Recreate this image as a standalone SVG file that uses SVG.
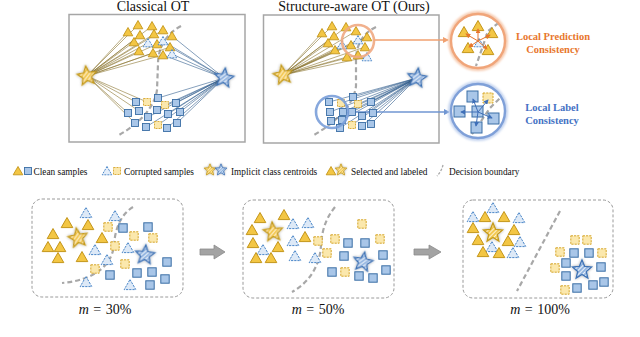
<svg xmlns="http://www.w3.org/2000/svg" xmlns:xlink="http://www.w3.org/1999/xlink" width="640" height="337" viewBox="0 0 640 337">
<style>
.title{font-family:"Liberation Serif","Times New Roman",serif;font-size:14px;fill:#111;text-anchor:middle}
.leg{font-family:"Liberation Serif","Times New Roman",serif;font-size:9.3px;fill:#111}
.cons{font-family:"Liberation Serif","Times New Roman",serif;font-size:10.5px;font-weight:bold;text-anchor:middle}
.mlab{font-family:"Liberation Serif","DejaVu Serif",serif;font-size:14px;fill:#111;text-anchor:middle;word-spacing:1px}
.box{fill:#fff;stroke:#a6a6a6;stroke-width:1.5}
.panel{fill:#fff;stroke:#9a9a9a;stroke-width:1;stroke-dasharray:3 2}
.db{fill:none;stroke:#a8a8a8;stroke-width:2.2;stroke-dasharray:5 3}
.lg{stroke:#8c7530;stroke-width:0.6;fill:none}
.lb{stroke:#34608f;stroke-width:0.6;fill:none}
.lg2{stroke:#a88a3a;stroke-width:0.7;fill:none}
.lb2{stroke:#4b709c;stroke-width:0.7;fill:none}
.garrow{fill:#a3a3a3;stroke:#8a8a8a;stroke-width:0.8}
</style>
<defs>
<pattern id="hg" patternUnits="userSpaceOnUse" width="3" height="3" patternTransform="rotate(45)">
<rect width="3" height="3" fill="#f3c64a"/><rect width="1.1" height="3" fill="#fdf3d2"/>
</pattern>
<pattern id="hb" patternUnits="userSpaceOnUse" width="3" height="3" patternTransform="rotate(45)">
<rect width="3" height="3" fill="#8fb3e0"/><rect width="1.1" height="3" fill="#eef4fb"/>
</pattern>
<filter id="glow" x="-50%" y="-50%" width="200%" height="200%">
<feGaussianBlur in="SourceAlpha" stdDeviation="1.6"/>
<feComponentTransfer><feFuncA type="linear" slope="0.35"/></feComponentTransfer>
<feMerge><feMergeNode/><feMergeNode in="SourceGraphic"/></feMerge>
</filter>
<filter id="cglow" x="-30%" y="-30%" width="160%" height="160%">
<feGaussianBlur stdDeviation="1.2"/>
</filter>
<path id="tg" d="M0,-4.5 L4.8,3.8 L-4.8,3.8 Z" fill="#f3c644" stroke="#c3951a" stroke-width="0.9"/>
<path id="tb" d="M0,-4.5 L4.8,3.8 L-4.8,3.8 Z" fill="#e4eefa" stroke="#3f7fc4" stroke-width="0.9" stroke-dasharray="2 1"/>
<rect id="sb" x="-3.5" y="-3.5" width="7" height="7" fill="#a9c6e8" stroke="#3b6ea5" stroke-width="0.9"/>
<rect id="sy" x="-3.5" y="-3.5" width="7" height="7" fill="#fbe8ad" stroke="#d6a62a" stroke-width="0.9" stroke-dasharray="2 1"/>
<path id="TG" d="M0,-5.5 L5.8,4.6 L-5.8,4.6 Z" fill="#f3c644" stroke="#c3951a" stroke-width="1"/>
<path id="TB" d="M0,-5.5 L5.8,4.6 L-5.8,4.6 Z" fill="#dde9f7" stroke="#4a86c8" stroke-width="1" stroke-dasharray="2.2 1"/>
<rect id="SB" x="-4.2" y="-4.2" width="8.4" height="8.4" fill="#a9c6e8" stroke="#3b6ea5" stroke-width="1"/>
<rect id="SY" x="-4.2" y="-4.2" width="8.4" height="8.4" fill="#fbe8ad" stroke="#d6a62a" stroke-width="1" stroke-dasharray="2.2 1"/>
<path id="star" d="M0,-10 L2.65,-3.64 L9.51,-3.09 L4.28,1.39 L5.88,8.09 L0,4.5 L-5.88,8.09 L-4.28,1.39 L-9.51,-3.09 L-2.65,-3.64 Z"/>
<g id="stg" filter="url(#glow)"><use href="#star" fill="url(#hg)" stroke="#c49a1c" stroke-width="1.3"/></g>
<g id="stb" filter="url(#glow)"><use href="#star" fill="url(#hb)" stroke="#3f73b5" stroke-width="1.3"/></g>
<marker id="ao" viewBox="0 0 6 6" refX="5" refY="3" markerWidth="5" markerHeight="5" orient="auto"><path d="M0,0 L6,3 L0,6 Z" fill="#e8762c"/></marker>
<marker id="ab" viewBox="0 0 6 6" refX="5" refY="3" markerWidth="5" markerHeight="5" orient="auto"><path d="M0,0 L6,3 L0,6 Z" fill="#3f6fb8"/></marker>
<marker id="aO" viewBox="0 0 6 6" refX="5" refY="3" markerWidth="4" markerHeight="4" orient="auto"><path d="M0,0 L6,3 L0,6 Z" fill="#f0a070"/></marker>
<marker id="aB" viewBox="0 0 6 6" refX="5" refY="3" markerWidth="4" markerHeight="4" orient="auto"><path d="M0,0 L6,3 L0,6 Z" fill="#7096d2"/></marker>
<clipPath id="cpo"><circle cx="478" cy="41" r="26"/></clipPath>
<clipPath id="cpb"><circle cx="478" cy="111" r="26"/></clipPath>
</defs>

<rect width="640" height="337" fill="#fff"/>

<!-- Titles -->
<text class="title" x="153" y="11">Classical OT</text>
<text class="title" x="354" y="11">Structure-aware OT (Ours)</text>

<!-- Box frames -->
<g id="box-classical"><rect class="box" x="69" y="14.5" width="176" height="127.5"/></g>
<g id="box-structure"><rect class="box" x="263.5" y="15" width="175.5" height="128"/></g>

<!-- decision boundaries top -->
<path class="db" d="M181,26 C166,34 158,48 158,64 L157,90 C155,106 140,124 117,136"/>
<path class="db" d="M376,27 C363,33 356,45 356,60 L356,86 C354,105 336,122 314,135"/>

<g id="connectors">
<g class="lg">
<path d="M87,76L128,32M87,76L138,25M87,76L152,26M87,76L163,30M87,76L140,35M87,76L154,34M87,76L134,42M87,76L157,44M87,76L148,43M87,76L139,51M87,76L153,53M87,76L163,55M87,76L170,47M87,76L136,102M87,76L147,102M87,76L128,113M87,76L139,111M87,76L135,123"/>
</g>
<g class="lb">
<path d="M224,78L172,36M224,78L163,41M224,78L170,47M224,78L172,54M224,78L163,55M224,78L158,98M224,78L176,103M224,78L165,105M224,78L157,110M224,78L168,114M224,78L180,112M224,78L148,117M224,78L146,127M224,78L167,128M224,78L177,123M224,78L158,125"/>
</g>
<g class="lg">
<path d="M283,75L322,33M283,75L332,26M283,75L334,36M283,75L346,27M283,75L356,31M283,75L367,37M283,75L328,43M283,75L351,45M283,75L365,47M283,75L335,50M283,75L358,55M283,75L347,57M283,75L358,40M283,75L342,45M283,75L367,57"/>
</g>
<g class="lb">
<path d="M417,78L329,102M417,78L341,103M417,78L353,97M417,78L358,104M417,78L371,102M417,78L330,112M417,78L343,112M417,78L352,112M417,78L362,116M417,78L373,113M417,78L331,121M417,78L342,120M417,78L340,128M417,78L352,125M417,78L362,126M417,78L371,124"/>
</g>
<path d="M374,40 L448,40" stroke="#f0a070" stroke-width="1.5" fill="none" marker-end="url(#aO)"/>
<path d="M348,112 L449,112" stroke="#7096d2" stroke-width="1.5" fill="none" marker-end="url(#aB)"/>
<g class="lg2"><path d="M78,238L53,234M78,238L48,247M78,238L60,247M78,238L67,223M78,238L58,258"/></g>
<g class="lb2"><path d="M145,255L167,262M145,255L165,279M145,255L150,285M145,255L152,272"/></g>
<g class="lg2"><path d="M273,232L260,218M273,232L252,230M273,232L253,243M273,232L278,247M273,232L256,258M273,232L271,258M273,232L263,250"/></g>
<g class="lb2"><path d="M363,262L380,239M363,262L383,255M363,262L386,270M363,262L359,276M363,262L373,278M363,262L365,243"/></g>
<g class="lg2"><path d="M493,233L485,217M493,233L504,217M493,233L473,228M493,233L514,230M493,233L478,240M493,233L508,241M493,233L483,252M493,233L499,253M493,233L473,217M493,233L493,208M493,233L519,218M493,233L520,242M493,233L492,247M493,233L513,253"/></g>
<g class="lb2"><path d="M582,270L574,253M582,270L589,253M582,270L566,263M582,270L601,267M582,270L566,276M582,270L604,282M582,270L577,288M582,270L593,285M582,270L575,240M582,270L587,240M582,270L560,252M582,270L602,253M582,270L555,268M582,270L565,290"/></g>
</g>

<g id="classical-samples">
<use href="#tg" x="128" y="32"/><use href="#tg" x="138" y="25"/><use href="#tg" x="152" y="26"/><use href="#tg" x="163" y="30"/><use href="#tg" x="140" y="35"/><use href="#tg" x="154" y="34"/><use href="#tg" x="172" y="36"/><use href="#tg" x="134" y="42"/><use href="#tg" x="157" y="44"/><use href="#tg" x="170" y="47"/><use href="#tg" x="139" y="51"/><use href="#tg" x="153" y="53"/><use href="#tg" x="163" y="55"/>
<use href="#tb" x="148" y="43"/><use href="#tb" x="163" y="41"/><use href="#tb" x="172" y="54"/>
<use href="#sb" x="136" y="102"/><use href="#sb" x="158" y="98"/><use href="#sb" x="176" y="103"/><use href="#sb" x="128" y="113"/><use href="#sb" x="139" y="111"/><use href="#sb" x="157" y="110"/><use href="#sb" x="168" y="114"/><use href="#sb" x="180" y="112"/><use href="#sb" x="148" y="117"/><use href="#sb" x="135" y="123"/><use href="#sb" x="146" y="127"/><use href="#sb" x="167" y="128"/><use href="#sb" x="177" y="123"/>
<use href="#sy" x="147" y="102"/><use href="#sy" x="165" y="105"/><use href="#sy" x="158" y="125"/>
</g>
<g id="classical-star-gold"><use href="#stg" transform="translate(87,76) rotate(-8)"/></g>
<g id="classical-star-blue"><use href="#stb" transform="translate(224,78) rotate(8)"/></g>

<g id="structure-samples">
<use href="#tg" x="322" y="33"/><use href="#tg" x="332" y="26"/><use href="#tg" x="334" y="36"/><use href="#tg" x="346" y="27"/><use href="#tg" x="356" y="31"/><use href="#tg" x="367" y="37"/><use href="#tg" x="328" y="43"/><use href="#tg" x="351" y="45"/><use href="#tg" x="365" y="47"/><use href="#tg" x="335" y="50"/><use href="#tg" x="358" y="55"/><use href="#tg" x="347" y="57"/>
<use href="#tb" x="358" y="40"/><use href="#tb" x="342" y="45"/><use href="#tb" x="367" y="57"/>
<use href="#sb" x="329" y="102"/><use href="#sb" x="353" y="97"/><use href="#sb" x="371" y="102"/><use href="#sb" x="330" y="112"/><use href="#sb" x="343" y="112"/><use href="#sb" x="352" y="112"/><use href="#sb" x="362" y="116"/><use href="#sb" x="373" y="113"/><use href="#sb" x="331" y="121"/><use href="#sb" x="342" y="120"/><use href="#sb" x="340" y="128"/><use href="#sb" x="362" y="126"/><use href="#sb" x="371" y="124"/>
<use href="#sy" x="341" y="103"/><use href="#sy" x="358" y="104"/><use href="#sy" x="352" y="125"/>
</g>
<g id="structure-star-gold"><use href="#stg" transform="translate(283,75) rotate(-10)"/></g>
<g id="structure-star-blue"><use href="#stb" transform="translate(417,78) rotate(8)"/></g>
<g id="small-circle-orange"><circle cx="358" cy="41" r="16" fill="none" stroke="#f0a882" stroke-width="2.6" opacity="0.9"/></g>
<g id="small-circle-blue"><circle cx="332" cy="112" r="16" fill="none" stroke="#7a9fd9" stroke-width="2.6" opacity="0.9"/></g>

<g id="local-prediction">
<circle cx="478" cy="41" r="28" fill="none" stroke="#f6c9ad" stroke-width="4" filter="url(#cglow)"/>
<circle cx="478" cy="41" r="27" fill="#fff" stroke="#f0a57a" stroke-width="2.4"/>
<g clip-path="url(#cpo)"><path class="db" d="M505,18 L488,31 L476,66"/></g>
<use href="#TG" x="464" y="32"/><use href="#TG" x="478" y="26"/><use href="#TG" x="492" y="33"/><use href="#TG" x="468" y="48"/><use href="#TG" x="488" y="50"/>
<use href="#tb" x="479" y="43"/>
<g stroke="#e8762c" stroke-width="1" fill="none">
<path d="M478,41L466,34" marker-end="url(#ao)"/><path d="M478,41L478,29" marker-end="url(#ao)"/><path d="M478,41L490,35" marker-end="url(#ao)"/><path d="M478,41L469,47" marker-end="url(#ao)"/><path d="M478,41L487,49" marker-end="url(#ao)"/>
</g>
</g>
<text class="cons" fill="#e8772e" x="553" y="40">Local Prediction</text>
<text class="cons" fill="#e8772e" x="553" y="53">Consistency</text>

<g id="local-label">
<circle cx="478" cy="111" r="28" fill="none" stroke="#c3d3ef" stroke-width="4" filter="url(#cglow)"/>
<circle cx="478" cy="111" r="27" fill="#fff" stroke="#7fa0d8" stroke-width="2.4"/>
<g clip-path="url(#cpb)"><path class="db" d="M505,93 L490,108 L468,140"/></g>
<rect x="467" y="91" width="11" height="11" fill="#a9c6e8" stroke="#3b6ea5"/>
<rect x="483" y="93" width="10" height="10" fill="#fbe8ad" stroke="#d6a62a" stroke-dasharray="2.2 1"/>
<rect x="454" y="106" width="11" height="11" fill="#a9c6e8" stroke="#3b6ea5"/>
<rect x="472" y="106" width="11" height="11" fill="#a9c6e8" stroke="#3b6ea5"/>
<rect x="488" y="113" width="11" height="11" fill="#a9c6e8" stroke="#3b6ea5"/>
<rect x="471" y="122" width="11" height="11" fill="#a9c6e8" stroke="#3b6ea5"/>
<g stroke="#3f6fb8" stroke-width="1" fill="none">
<path d="M478,112L473,99" marker-end="url(#ab)"/><path d="M478,112L488,100" marker-end="url(#ab)"/><path d="M478,112L461,112" marker-end="url(#ab)"/><path d="M478,112L492,118" marker-end="url(#ab)"/><path d="M478,112L476,126" marker-end="url(#ab)"/>
</g>
</g>
<text class="cons" fill="#4472c4" x="552" y="111">Local Label</text>
<text class="cons" fill="#4472c4" x="552" y="124">Consistency</text>

<g id="legend">
<use href="#tg" x="18" y="171"/><use href="#sb" x="28" y="171"/>
<text class="leg" x="33.5" y="174.5">Clean samples</text>
<use href="#tb" x="107" y="171"/><use href="#sy" x="117" y="171"/>
<text class="leg" x="124" y="174.5">Corrupted samples</text>
<use href="#stg" transform="translate(210,170) scale(0.62)"/><use href="#stb" transform="translate(221,170) scale(0.62)"/>
<text class="leg" x="231" y="174.5">Implicit class centroids</text>
<use href="#tg" x="331" y="171"/><use href="#stg" transform="translate(341,170) scale(0.62)"/>
<text class="leg" x="351" y="174.5">Selected and labeled</text>
<path d="M443,165 C442,169 440,173 437,176" fill="none" stroke="#a8a8a8" stroke-width="1.3" stroke-dasharray="2.5 1.5"/>
<text class="leg" x="449" y="174.5">Decision boundary</text>
</g>

<g id="panel-30">
<rect class="panel" x="32" y="199" width="151" height="98" rx="10"/>
<path class="db" d="M133,207 C120,215 115,230 114,245 C112,265 95,280 62,283"/>
<use href="#TB" x="86" y="213"/><use href="#TB" x="115" y="216"/><use href="#TB" x="95" y="250"/><use href="#TB" x="107" y="260"/><use href="#TB" x="86" y="282"/><use href="#TB" x="130" y="285"/><use href="#TB" x="128" y="248"/>
<use href="#TG" x="67" y="223"/><use href="#TG" x="88" y="225"/><use href="#TG" x="53" y="234"/><use href="#TG" x="48" y="247"/><use href="#TG" x="60" y="247"/><use href="#TG" x="82" y="257"/><use href="#TG" x="58" y="258"/><use href="#TG" x="102" y="238"/>
<use href="#SY" x="108" y="227"/><use href="#SY" x="134" y="236"/><use href="#SY" x="153" y="238"/><use href="#SY" x="115" y="246"/><use href="#SY" x="125" y="264"/><use href="#SY" x="95" y="269"/>
<use href="#SB" x="123" y="228"/><use href="#SB" x="148" y="227"/><use href="#SB" x="110" y="275"/><use href="#SB" x="137" y="273"/><use href="#SB" x="152" y="272"/><use href="#SB" x="167" y="262"/><use href="#SB" x="165" y="279"/><use href="#SB" x="150" y="285"/>
<use href="#stg" transform="translate(78,238) rotate(-10)"/>
<use href="#stb" transform="translate(145,255) rotate(5)"/>
<text class="mlab" x="105" y="314"><tspan font-style="italic">m</tspan> = 30%</text>
</g>

<polygon class="garrow" points="200,249 214,249 214,245 225,252 214,259 214,255 200,255"/>

<g id="panel-50">
<rect class="panel" x="243" y="200" width="151" height="98" rx="10"/>
<path class="db" d="M335,207 C326,218 322,230 321,245 C320,265 310,282 292,292"/>
<use href="#TB" x="293" y="224"/><use href="#TB" x="308" y="223"/><use href="#TB" x="293" y="241"/><use href="#TB" x="295" y="256"/><use href="#TB" x="315" y="258"/><use href="#TB" x="263" y="250"/>
<use href="#TG" x="260" y="218"/><use href="#TG" x="284" y="215"/><use href="#TG" x="252" y="230"/><use href="#TG" x="253" y="243"/><use href="#TG" x="305" y="237"/><use href="#TG" x="278" y="247"/><use href="#TG" x="256" y="258"/><use href="#TG" x="271" y="258"/>
<use href="#SY" x="318" y="241"/><use href="#SY" x="335" y="239"/><use href="#SY" x="327" y="253"/><use href="#SY" x="345" y="272"/><use href="#SY" x="362" y="224"/><use href="#SY" x="380" y="239"/>
<use href="#SB" x="348" y="243"/><use href="#SB" x="365" y="243"/><use href="#SB" x="344" y="256"/><use href="#SB" x="332" y="272"/><use href="#SB" x="383" y="255"/><use href="#SB" x="386" y="270"/><use href="#SB" x="359" y="276"/><use href="#SB" x="373" y="278"/>
<use href="#stg" transform="translate(273,232) rotate(-5)"/>
<use href="#stb" transform="translate(363,262) rotate(10)"/>
<text class="mlab" x="318" y="314"><tspan font-style="italic">m</tspan> = 50%</text>
</g>

<polygon class="garrow" points="414,249 429,249 429,245 441,252 429,259 429,255 414,255"/>

<g id="panel-100">
<rect class="panel" x="463" y="200" width="150" height="98" rx="10"/>
<path class="db" d="M560,211 L517,291"/>
<use href="#TB" x="473" y="217"/><use href="#TB" x="493" y="208"/><use href="#TB" x="519" y="218"/><use href="#TB" x="520" y="242"/><use href="#TB" x="492" y="247"/><use href="#TB" x="513" y="253"/>
<use href="#TG" x="485" y="217"/><use href="#TG" x="504" y="217"/><use href="#TG" x="473" y="228"/><use href="#TG" x="514" y="230"/><use href="#TG" x="478" y="240"/><use href="#TG" x="508" y="241"/><use href="#TG" x="483" y="252"/><use href="#TG" x="499" y="253"/>
<use href="#SY" x="575" y="240"/><use href="#SY" x="587" y="240"/><use href="#SY" x="560" y="252"/><use href="#SY" x="602" y="253"/><use href="#SY" x="555" y="268"/><use href="#SY" x="565" y="290"/>
<use href="#SB" x="574" y="253"/><use href="#SB" x="589" y="253"/><use href="#SB" x="566" y="263"/><use href="#SB" x="601" y="267"/><use href="#SB" x="566" y="276"/><use href="#SB" x="604" y="282"/><use href="#SB" x="577" y="288"/><use href="#SB" x="593" y="285"/>
<use href="#stg" transform="translate(493,233)"/>
<use href="#stb" transform="translate(582,270)"/>
<text class="mlab" x="540" y="314"><tspan font-style="italic">m</tspan> = 100%</text>
</g>
</svg>
